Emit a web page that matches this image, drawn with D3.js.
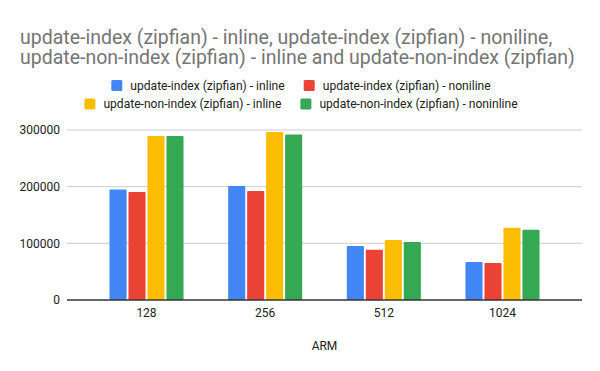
<!DOCTYPE html>
<html>
<head>
<meta charset="utf-8">
<script src="https://cdn.jsdelivr.net/npm/d3@7"></script>
<style>
  body { margin: 0; background: #fff; }
  text { font-family: Roboto, Arial, sans-serif; }
</style>
</head>
<body>
<div id="chart"></div>
<script>
// chart data
var categories = ["128", "256", "512", "1024"];
var seriesNames = [
    "update-index (zipfian) - inline",
    "update-index (zipfian) - noniline",
    "update-non-index (zipfian) - inline",
    "update-non-index (zipfian) - noninline"
];
var indexInline = [195000, 201000, 95500, 67000];
var indexNoninline = [190500, 192500, 88500, 65500];
var nonIndexInline = [289500, 296500, 106000, 127500];
var nonIndexNoninline = [289500, 292000, 102500, 124000];
var yTicks = [0, 100000, 200000, 300000];
var titleLines = [
    "update-index (zipfian) - inline, update-index (zipfian) - noniline,",
    "update-non-index (zipfian) - inline and update-non-index (zipfian)"
];
var xTitle = "ARM";

var colors = ["#4285f4", "#ea4335", "#fbbc04", "#34a853"];
var allSeries = [indexInline, indexNoninline, nonIndexInline, nonIndexNoninline];

var width = 600, height = 371;
var plotLeft = 67, plotRight = 582, plotTop = 130, plotBottom = 300;

var svg = d3.select("#chart")
    .append("svg")
    .attr("width", width)
    .attr("height", height);

// title
svg.append("g")
    .selectAll("text")
    .data(titleLines)
    .enter()
    .append("text")
    .attr("x", 20)
    .attr("y", function(d, i) { return 44 + i * 20 })
    .style("font-size", "19.5px")
    .style("fill", "#757575")
    .text(function(d) { return d });

// legend, two rows centred
var legendRows = [[0, 1], [2, 3]];
legendRows.forEach(function(row, r) {
    var g = svg.append("g");
    var xPos = 0;
    row.forEach(function(si, k) {
        var item = g.append("g").attr("transform", "translate(" + xPos + ",0)");
        item.append("rect")
            .attr("x", 0).attr("y", -5.5)
            .attr("width", 11).attr("height", 11)
            .attr("rx", 1.5)
            .attr("fill", colors[si]);
        var t = item.append("text")
            .attr("x", 19).attr("y", 4.2)
            .style("font-size", "12.1px")
            .style("fill", "#222")
            .text(seriesNames[si]);
        xPos += 19 + t.node().getComputedTextLength() + 19;
    });
    var total = xPos - 19;
    g.attr("transform", "translate(" + (301 - total / 2) + "," + (85.5 + r * 18.5) + ")");
});

var x = d3.scaleBand()
    .domain(categories)
    .range([plotLeft, plotRight])
    .paddingInner(0.376)
    .paddingOuter(0.358);

var xSub = d3.scaleBand()
    .domain(d3.range(allSeries.length))
    .range([0, x.bandwidth()])
    .paddingInner(0.1);

var y = d3.scaleLinear()
    .domain([0, 300000])
    .range([plotBottom, plotTop]);

// gridlines
svg.append("g")
    .selectAll("line")
    .data(yTicks.slice(1))
    .enter()
    .append("line")
    .attr("x1", plotLeft).attr("x2", plotRight)
    .attr("y1", function(d) { return y(d) }).attr("y2", function(d) { return y(d) })
    .attr("stroke", "#cccccc")
    .attr("stroke-width", 1);

// y labels
svg.append("g")
    .selectAll("text")
    .data(yTicks)
    .enter()
    .append("text")
    .attr("x", 60)
    .attr("y", function(d) { return y(d) + 4.3 })
    .attr("text-anchor", "end")
    .style("font-size", "12px")
    .style("fill", "#222")
    .text(function(d) { return d });

// bars
var groups = svg.append("g")
    .selectAll("g")
    .data(categories)
    .enter()
    .append("g")
    .attr("transform", function(d) { return "translate(" + x(d) + ",0)" });

groups.selectAll("rect")
    .data(function(d, ci) { return allSeries.map(function(s, si) { return {si: si, v: s[ci]} }) })
    .enter()
    .append("rect")
    .attr("x", function(d) { return xSub(d.si) })
    .attr("y", function(d) { return y(d.v) })
    .attr("width", xSub.bandwidth())
    .attr("height", function(d) { return plotBottom - y(d.v) })
    .attr("rx", 1)
    .attr("fill", function(d) { return colors[d.si] });

// baseline
svg.append("line")
    .attr("x1", plotLeft).attr("x2", plotRight)
    .attr("y1", plotBottom).attr("y2", plotBottom)
    .attr("stroke", "#333333")
    .attr("stroke-width", 1.3);

// x labels
svg.append("g")
    .selectAll("text")
    .data(categories)
    .enter()
    .append("text")
    .attr("x", function(d) { return x(d) + x.bandwidth() / 2 })
    .attr("y", 317)
    .attr("text-anchor", "middle")
    .style("font-size", "12px")
    .style("fill", "#222")
    .text(function(d) { return d });

// x axis title
svg.append("text")
    .attr("x", (plotLeft + plotRight) / 2)
    .attr("y", 349.5)
    .attr("text-anchor", "middle")
    .style("font-size", "12px")
    .style("fill", "#222")
    .text(xTitle);
</script>
</body>
</html>
